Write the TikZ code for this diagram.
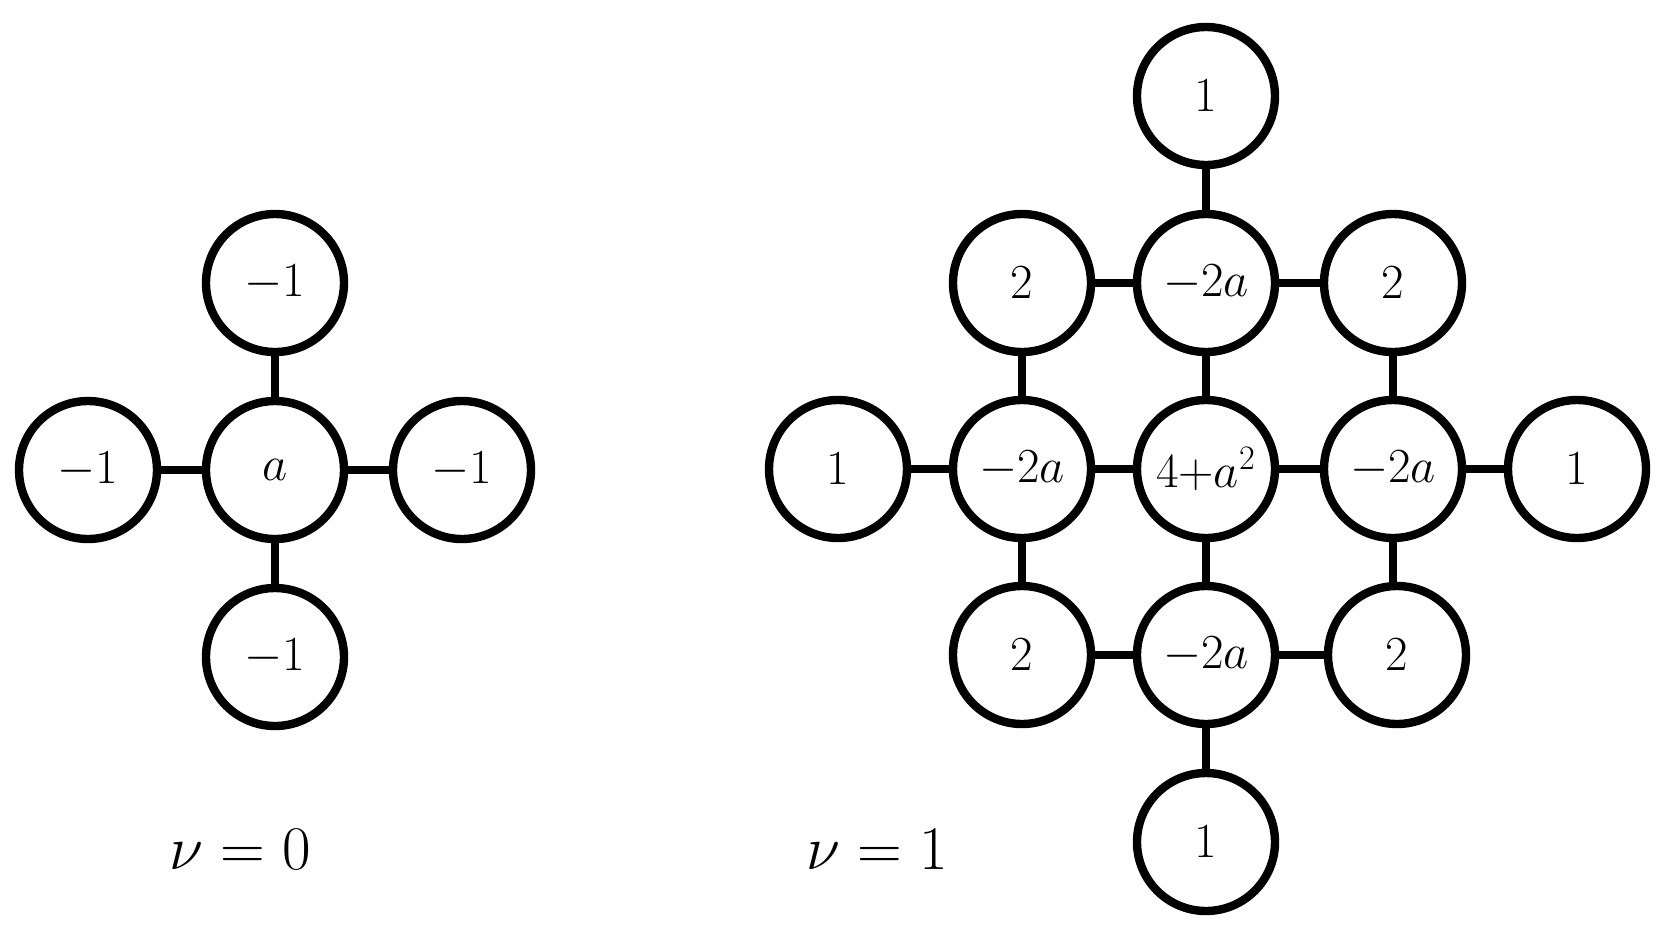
\RequirePackage{fix-cm}
\documentclass[tikz,border=0pt]{standalone}
\begin{document}
\begin{tikzpicture}[x=0.5pt,y=-0.5pt,
  vtx/.style={circle, draw, line width=4.2pt, minimum size=69pt, inner sep=0pt,
    font=\fontsize{24.5}{30}\selectfont},
  edge/.style={line width=4.2pt},
  lbl/.style={inner sep=0pt, font=\fontsize{31}{36}\selectfont}]
\useasboundingbox (0,0) rectangle (1667,928);
% nu = 0
\node[vtx] (c0) at (275,470) {$a$};
\node[vtx] (n0) at (275,283) {$-1$};
\node[vtx] (s0) at (275,657) {$-1$};
\node[vtx] (w0) at (88,470) {$-1$};
\node[vtx] (e0) at (462,470) {$-1$};
\foreach \t in {n0,s0,w0,e0} \draw[edge] (c0) -- (\t);
\node[lbl] (l0) at (240,850) {$\nu = 0$};
% nu = 1
\node[vtx] (c) at (1206,469) {$4{+}a^2$};
\node[vtx] (n) at (1206,283) {$-2a$};
\node[vtx] (s) at (1206,655) {$-2a$};
\node[vtx] (w) at (1022,469) {$-2a$};
\node[vtx] (e) at (1393,469) {$-2a$};
\node[vtx] (nn) at (1206,96) {$1$};
\node[vtx] (ss) at (1206,842) {$1$};
\node[vtx] (ww) at (838,469) {$1$};
\node[vtx] (ee) at (1577,469) {$1$};
\node[vtx] (nw) at (1022,283) {$2$};
\node[vtx] (ne) at (1393,283) {$2$};
\node[vtx] (sw) at (1022,655) {$2$};
\node[vtx] (se) at (1397,655) {$2$};
\draw[edge] (nn) -- (n);
\draw[edge] (nw) -- (n);
\draw[edge] (n) -- (ne);
\draw[edge] (nw) -- (w);
\draw[edge] (n) -- (c);
\draw[edge] (ne) -- (e);
\draw[edge] (ww) -- (w);
\draw[edge] (w) -- (c);
\draw[edge] (c) -- (e);
\draw[edge] (e) -- (ee);
\draw[edge] (w) -- (sw);
\draw[edge] (c) -- (s);
\draw[edge] (e.south) -- (e.south |- se.north);
\draw[edge] (sw) -- (s);
\draw[edge] (s) -- (se);
\draw[edge] (s) -- (ss);
\node[lbl] (l1) at (877,850) {$\nu = 1$};
\end{tikzpicture}
\end{document}
